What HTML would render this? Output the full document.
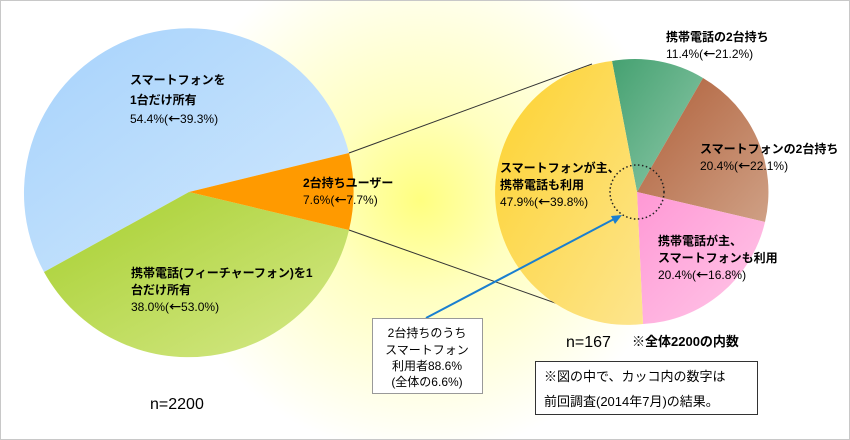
<!DOCTYPE html>
<html><head><meta charset="utf-8"><style>
html,body{margin:0;padding:0;background:#fff}
svg{display:block}
text{font-family:"Liberation Sans","Noto Sans CJK JP",sans-serif;font-size:12px;fill:#000}
.b{font-weight:bold}
.a{font-family:"Noto Sans CJK JP",sans-serif;font-weight:bold}
</style></head><body>
<svg width="850" height="440" viewBox="0 0 850 440" xmlns="http://www.w3.org/2000/svg">
<defs>
<radialGradient id="glow" cx="420" cy="200" r="320" gradientUnits="userSpaceOnUse">
<stop offset="0" stop-color="#ffff80"/><stop offset="0.3" stop-color="#ffffc0"/><stop offset="0.8" stop-color="#ffffff"/></radialGradient>
<linearGradient id="gb" x1="0" y1="0" x2="1" y2="1"><stop offset="0" stop-color="#a6d2fb"/><stop offset="1" stop-color="#d2e9fe"/></linearGradient>
<linearGradient id="gg" x1="0" y1="0" x2="1" y2="1"><stop offset="0" stop-color="#a6cf2e"/><stop offset="1" stop-color="#d6e98a"/></linearGradient>
<linearGradient id="gy" x1="0" y1="0" x2="1" y2="1"><stop offset="0" stop-color="#fdd22e"/><stop offset="1" stop-color="#fde58e"/></linearGradient>
<linearGradient id="gt" x1="0" y1="0" x2="1" y2="1"><stop offset="0" stop-color="#45a171"/><stop offset="1" stop-color="#8fc9aa"/></linearGradient>
<linearGradient id="gr" x1="0" y1="0" x2="1" y2="1"><stop offset="0" stop-color="#b0603a"/><stop offset="1" stop-color="#cfa085"/></linearGradient>
<linearGradient id="gp" x1="0" y1="0" x2="1" y2="1"><stop offset="0" stop-color="#ff98d5"/><stop offset="1" stop-color="#ffc8e8"/></linearGradient>
</defs>
<rect x="0.5" y="0.5" width="849" height="439" fill="#fff" stroke="#c8c8c8"/>
<rect x="1" y="1" width="848" height="438" fill="url(#glow)"/>
<path d="M189,192 L349,153 A165,165 0 1 0 44,272 Z" fill="url(#gb)"/>
<path d="M189,192 L44,272 A165,165 0 0 0 349,230 Z" fill="url(#gg)"/>
<path d="M189,192 L349,230 A165,165 0 0 0 349,153 Z" fill="#ff9a00"/>
<line x1="349" y1="153" x2="592" y2="64" stroke="#333" stroke-width="1"/>
<line x1="349" y1="230" x2="592" y2="316" stroke="#333" stroke-width="1"/>
<path d="M637,192 L612,61 A132,132 0 0 1 703,78 Z" fill="url(#gt)"/>
<path d="M637,192 L703,78 A132,132 0 0 1 765,222 Z" fill="url(#gr)"/>
<path d="M637,192 L765,222 A132,132 0 0 1 643,324 Z" fill="url(#gp)"/>
<path d="M637,192 L643,324 A132,132 0 0 1 612,61 Z" fill="url(#gy)"/>
<circle cx="637" cy="192" r="27" fill="none" stroke="#222" stroke-width="1.5" stroke-dasharray="1.5,2.5"/>
<line x1="426" y1="318" x2="616" y2="218" stroke="#1a7fd0" stroke-width="2"/>
<polygon points="622,215 611,216 615,224" fill="#1a7fd0"/>
<text class="b" x="130" y="84">スマートフォンを</text>
<text class="b" x="130" y="104">1台だけ所有</text>
<text x="130" y="123">54.4%(<tspan class="a">←</tspan>39.3%)</text>
<text class="b" x="303" y="187">2台持ちユーザー</text>
<text x="303" y="204">7.6%(<tspan class="a">←</tspan>7.7%)</text>
<text class="b" x="131" y="277">携帯電話(フィーチャーフォン)を1</text>
<text class="b" x="131" y="294">台だけ所有</text>
<text x="131" y="311">38.0%(<tspan class="a">←</tspan>53.0%)</text>
<text x="150" y="409" style="font-size:16px">n=2200</text>
<text class="b" x="666" y="41">携帯電話の2台持ち</text>
<text x="666" y="58">11.4%(<tspan class="a">←</tspan>21.2%)</text>
<text class="b" x="700" y="153">スマートフォンの2台持ち</text>
<text x="700" y="170">20.4%(<tspan class="a">←</tspan>22.1%)</text>
<text class="b" x="500" y="172">スマートフォンが主、</text>
<text class="b" x="500" y="189">携帯電話も利用</text>
<text x="500" y="206">47.9%(<tspan class="a">←</tspan>39.8%)</text>
<text class="b" x="658" y="245">携帯電話が主、</text>
<text class="b" x="658" y="262">スマートフォンも利用</text>
<text x="658" y="279">20.4%(<tspan class="a">←</tspan>16.8%)</text>
<text x="566" y="347" style="font-size:16px">n=167</text>
<text class="b" x="632" y="346" style="font-size:13px">※全体2200の内数</text>
<rect x="372.5" y="318.5" width="110" height="75" fill="#fff" stroke="#999"/>
<text x="427" y="337" text-anchor="middle">2台持ちのうち</text>
<text x="427" y="354" text-anchor="middle">スマートフォン</text>
<text x="427" y="370" text-anchor="middle">利用者88.6%</text>
<text x="427" y="386" text-anchor="middle">(全体の6.6%)</text>
<rect x="535.5" y="361.5" width="222" height="53" fill="#fff" stroke="#333"/>
<text x="544" y="381" style="font-size:13px">※図の中で、カッコ内の数字は</text>
<text x="544" y="406" style="font-size:13px">前回調査(2014年7月)の結果。</text>
</svg>
</body></html>
